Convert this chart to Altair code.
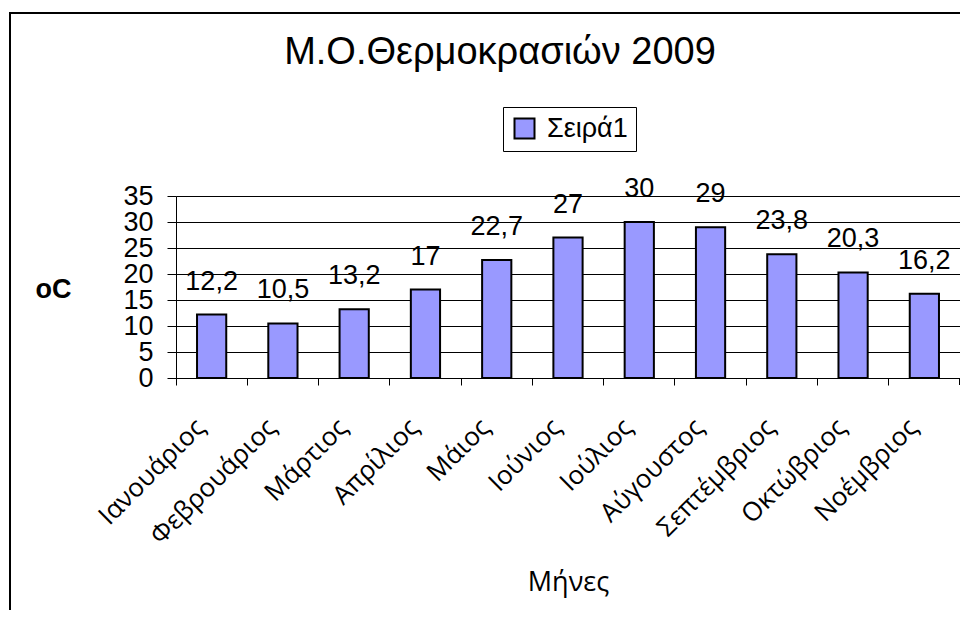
import altair as alt
import pandas as pd

months = ["Ιανουάριος", "Φεβρουάριος", "Μάρτιος", "Απρίλιος", "Μάιος", "Ιούνιος",
          "Ιούλιος", "Αύγουστος", "Σεπτέμβριος", "Οκτώβριος", "Νοέμβριος"]
temps = [12.2, 10.5, 13.2, 17, 22.7, 27, 30, 29, 23.8, 20.3, 16.2]
series_name = "Σειρά1"
y_ticks = [0, 5, 10, 15, 20, 25, 30, 35]

df = pd.DataFrame({
    "month": months,
    "temp": temps,
    "label": [("%g" % v).replace(".", ",") for v in temps],
    "series": [series_name] * len(months),
})

W, H = 784, 182

x_enc = alt.X("month:N", sort=months,
              scale=alt.Scale(paddingInner=0, paddingOuter=0),
              axis=alt.Axis(title="Μήνες", bandPosition=0, labelAngle=-45,
                            labelAlign="right", labelBaseline="middle",
                            labelPadding=38, labelOffset=-11,
                            tickSize=7, tickColor="black",
                            domainColor="black", grid=False,
                            labelFont="Open Sans", labelFontSize=26,
                            labelColor="black", labelOverlap=False,
                            titleFont="Open Sans", titleFontSize=27,
                            titleFontWeight="normal", titleColor="black",
                            titleBaseline="alphabetic", titleY=212))
y_enc = alt.Y("temp:Q", scale=alt.Scale(domain=[0, 35], nice=False),
              axis=alt.Axis(title="oC", values=y_ticks, tickSize=9,
                            labelPadding=14, labelFont="Liberation Sans",
                            labelFontSize=27, labelColor="black",
                            labelOverlap=False, labelFlush=False,
                            tickColor="black", domainColor="black",
                            grid=True, gridColor="black", gridWidth=1,
                            titleAngle=0, titleAlign="left",
                            titleBaseline="alphabetic", titleX=-141, titleY=101,
                            titleFont="Liberation Sans", titleFontSize=27,
                            titleFontWeight="bold", titleColor="black"))

bars = alt.Chart(df).mark_bar(
    width=alt.RelativeBandSize(0.41), stroke="black", strokeWidth=2
).encode(
    x=x_enc, y=y_enc,
    color=alt.Color("series:N", scale=alt.Scale(range=["#9999FF"]),
                    legend=alt.Legend(title=None, orient="none",
                                      legendX=327, legendY=-89,
                                      symbolType="square", symbolSize=400,
                                      symbolStrokeColor="black",
                                      symbolStrokeWidth=2,
                                      labelFont="Liberation Sans",
                                      labelFontSize=27, labelColor="black",
                                      labelOffset=9, padding=8,
                                      strokeColor="black", fillColor="white",
                                      cornerRadius=0)),
)

labels = alt.Chart(df).mark_text(
    baseline="bottom", dy=-19, font="Liberation Sans", fontSize=27, color="black"
).encode(x=x_enc, y=y_enc, text="label:N")

frame = alt.Chart(df).mark_rect(fillOpacity=0, stroke="black", strokeWidth=1.5).encode(
    x=alt.value(-166), x2=alt.value(830), y=alt.value(-183), y2=alt.value(440)
)

end_tick = alt.Chart(df).mark_rule(color="black").encode(
    x=alt.value(W - 0.5), y=alt.value(H), y2=alt.value(H + 7)
)

chart = alt.layer(bars, labels, frame, end_tick).properties(
    width=W, height=H,
    autosize=alt.AutoSizeParams(type="none"),
    padding={"left": 168, "top": 188, "right": 0, "bottom": 232},
    title=alt.TitleParams("Μ.Ο.Θερμοκρασιών 2009", font="Liberation Sans",
                          fontSize=38, fontWeight="normal", color="black",
                          anchor="middle", dx=-68, baseline="alphabetic",
                          offset=-90),
).configure_view(fill="#C0C0C0", stroke="#808080").configure(background="white")

chart.save("out.html", embed_options={"renderer": "svg", "actions": False})
